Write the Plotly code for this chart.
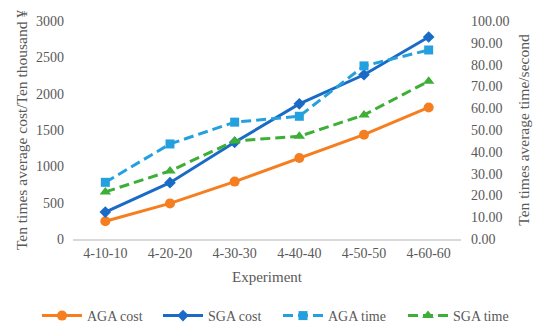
import plotly.graph_objects as go

experiments = ["4-10-10", "4-20-20", "4-30-30", "4-40-40", "4-50-50", "4-60-60"]
aga_cost = [245, 490, 790, 1115, 1435, 1810]
sga_cost = [370, 775, 1330, 1860, 2260, 2780]
aga_time = [26.0, 43.6, 53.6, 56.3, 79.4, 86.7]
sga_time = [21.6, 31.2, 45.0, 47.1, 56.9, 72.4]

FONT = "Liberation Serif"
GREY = "#595959"

fig = go.Figure()
fig.add_trace(go.Scatter(x=experiments, y=aga_cost, name="AGA cost", mode="lines+markers",
                         legend="legend",
                         line=dict(color="#F57F20", width=3),
                         marker=dict(symbol="circle", size=10, color="#F57F20")))
fig.add_trace(go.Scatter(x=experiments, y=sga_cost, name="SGA cost", mode="lines+markers",
                         legend="legend2",
                         line=dict(color="#1A6BC6", width=3),
                         marker=dict(symbol="diamond", size=9, color="#1A6BC6")))
fig.add_trace(go.Scatter(x=experiments, y=aga_time, name="AGA time", mode="lines+markers",
                         yaxis="y2", legend="legend3",
                         line=dict(color="#24A0DE", width=3, dash="10px,5px"),
                         marker=dict(symbol="square", size=9, color="#24A0DE")))
fig.add_trace(go.Scatter(x=experiments, y=sga_time, name="SGA time", mode="lines+markers",
                         yaxis="y2", legend="legend4",
                         line=dict(color="#3DAE36", width=3, dash="10px,5px"),
                         marker=dict(symbol="triangle-up", size=10, color="#3DAE36")))

def leg(px):
    return dict(orientation="h", xref="container", yref="container",
                x=px / 550, xanchor="left", y=18 / 334, yanchor="middle",
                font=dict(family=FONT, size=14, color=GREY),
                itemwidth=40, bgcolor="rgba(0,0,0,0)")

fig.update_layout(
    width=550, height=334,
    margin=dict(l=73, r=89, t=21, b=95, autoexpand=False),
    paper_bgcolor="white", plot_bgcolor="white",
    font=dict(family=FONT, size=14, color=GREY),
    showlegend=True,
    legend=leg(37), legend2=leg(158), legend3=leg(278), legend4=leg(403),
    xaxis=dict(
        title=dict(text="Experiment", font=dict(family=FONT, size=15, color=GREY), standoff=12),
        range=[-0.5, len(experiments) - 0.5],
        showline=True, linecolor="#D9D9D9", linewidth=1.5,
        showgrid=False, ticks="", tickfont=dict(family=FONT, size=14, color=GREY),
        zeroline=False,
    ),
    yaxis=dict(
        title=dict(text="Ten times average cost/Ten thousand ¥", font=dict(family=FONT, size=15.5, color=GREY), standoff=4),
        range=[0, 3000], dtick=500, showgrid=False, zeroline=False, showline=False,
        tickfont=dict(family=FONT, size=14, color=GREY), ticklabelstandoff=8,
    ),
    yaxis2=dict(
        title=dict(text="Ten times average time/second", font=dict(family=FONT, size=15.5, color=GREY), standoff=9),
        range=[0, 100], dtick=10, tickformat=".2f", overlaying="y", side="right",
        showgrid=False, zeroline=False, showline=False,
        tickfont=dict(family=FONT, size=14, color=GREY), ticklabelstandoff=9,
    ),
)

fig.write_html("out.html", config={"displayModeBar": False},
               post_script="document.body.style.margin='0';")
